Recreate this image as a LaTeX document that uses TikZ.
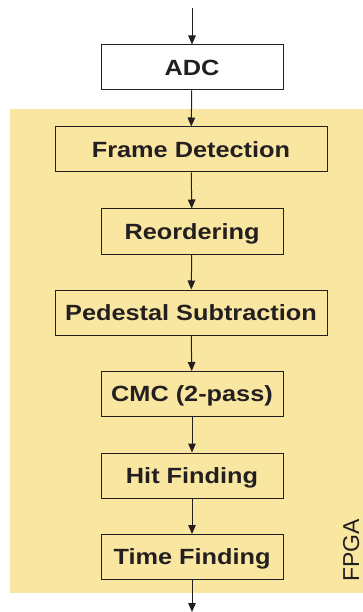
\documentclass[tikz,border=0pt]{standalone}
\usepackage{fontspec}
\setmainfont{Liberation Sans}
\newfontfamily\boxfont[FakeStretch=1.15]{Liberation Sans}
\usetikzlibrary{arrows.meta}
\definecolor{fpgayellow}{HTML}{F9E6A0}
\definecolor{ink}{HTML}{231F20}
\tikzset{
  stagebox/.style={draw=ink, line width=1pt, inner sep=0pt, minimum height=45pt,
    text=ink, font=\boxfont\bfseries\fontsize{22}{24}\selectfont,
    text height=15.75pt, text depth=0pt},
  narrow/.style={stagebox, minimum width=182pt},
  wide/.style={stagebox, minimum width=272pt},
  flow/.style={draw=ink, line width=1pt, -{Triangle[length=9pt,width=7.5pt]}}
}
\begin{document}
\begin{tikzpicture}[x=1pt,y=-1pt]
\useasboundingbox (0,0) rectangle (363,612);
\fill[fpgayellow] (10,109) rectangle (363,593);
\coordinate (in) at (192,8);
\coordinate (out) at (192,612);
\node[narrow, fill=white] (adc) at (192,67.5) {ADC};
\node[wide, fill=fpgayellow] (frame) at (191,149.5) {Frame Detection};
\node[narrow, fill=fpgayellow] (reord) at (192,231.5) {Reordering};
\node[wide, fill=fpgayellow] (ped) at (191,312.5) {Pedestal Subtraction};
\node[narrow, fill=fpgayellow] (cmc) at (192,394) {CMC (2-pass)};
\node[narrow, fill=fpgayellow] (hit) at (192,475.5) {Hit Finding};
\node[narrow, fill=fpgayellow] (time) at (192,557) {Time Finding};
\node[rotate=90, anchor=south, inner sep=0pt, text=ink, font=\fontsize{23}{26}\selectfont] (fpga) at (359.5,550.5) {FPGA};
\draw[flow] (in) -- (adc);
\draw[flow] (adc) -- (frame);
\draw[flow] (frame) -- (reord);
\draw[flow] (reord) -- (ped);
\draw[flow] (ped) -- (cmc);
\draw[flow] (cmc) -- (hit);
\draw[flow] (hit) -- (time);
\draw[flow] (time) -- (out);
\end{tikzpicture}
\end{document}
